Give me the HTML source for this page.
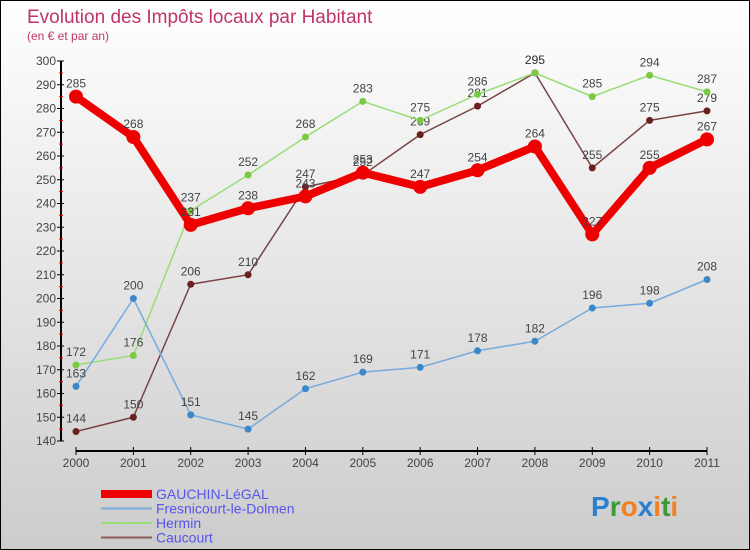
<!DOCTYPE html>
<html><head><meta charset="utf-8"><style>
body{margin:0}
#c{width:750px;height:550px;position:relative;box-sizing:border-box;border:1px solid #000;background:linear-gradient(#fff,#ccc);font-family:"Liberation Sans",sans-serif;overflow:hidden}
svg{position:absolute;left:0;top:0}
</style></head><body>
<div id="c">
<svg id="s" width="750" height="550">
<text x="26" y="22" font-size="19" fill="#c0336a">Evolution des Impôts locaux par Habitant</text>
<text x="26" y="39" font-size="12" fill="#c0336a">(en € et par an)</text>
<text x="590" y="515" font-size="28" font-weight="bold"><tspan fill="#2a7fd0">P</tspan><tspan fill="#3a9a3a">r</tspan><tspan fill="#f08020">o</tspan><tspan fill="#2a7fd0">x</tspan><tspan fill="#f08020">i</tspan><tspan fill="#3a9a3a">t</tspan><tspan fill="#f08020">i</tspan></text>
</svg></div>
<script>
const years=["2000","2001","2002","2003","2004","2005","2006","2007","2008","2009","2010","2011"];
const gauchin=[285,268,231,238,243,253,247,254,264,227,255,267];
const fresnicourt=[163,200,151,145,162,169,171,178,182,196,198,208];
const hermin=[172,176,237,252,268,283,275,286,295,285,294,287];
const caucourt=[144,150,206,210,247,252,269,281,295,255,275,279];
const yTicks=[140,150,160,170,180,190,200,210,220,230,240,250,260,270,280,290,300];
const names=["GAUCHIN-LéGAL","Fresnicourt-le-Dolmen","Hermin","Caucourt"];
const NS="http://www.w3.org/2000/svg",s=document.getElementById('s');
const X=i=>75+i*(631/11),Y=v=>440-(v-140)*2.375;
function el(t,a,p){const e=document.createElementNS(NS,t);for(const k in a)e.setAttribute(k,a[k]);(p||s).appendChild(e);return e;}
const ax=el('line',{x1:60,y1:Y(300),x2:60,y2:Y(140),stroke:'#000','stroke-width':2});


const xa=el('line',{x1:X(0),y1:450,x2:X(11),y2:450,stroke:'#000','stroke-width':2});


yTicks.forEach((v,i)=>{
  el('line',{x1:56,y1:Y(v),x2:63,y2:Y(v),stroke:'#000','stroke-width':1});
  if(i<yTicks.length-1) el('line',{x1:58,y1:Y(v+5),x2:62,y2:Y(v+5),stroke:'#e00','stroke-width':1});
  const t=el('text',{x:55,y:Y(v)+4,'font-size':12,'text-anchor':'end',fill:'#444'});t.textContent=v;
  
  
});
years.forEach((y,i)=>{
  el('line',{x1:X(i),y1:446,x2:X(i),y2:454,stroke:'#000'});
  const t=el('text',{x:X(i),y:466,'font-size':12,'text-anchor':'middle',fill:'#444'});t.textContent=y;
  
  
});
const series=[[caucourt,'#6b2020','#7a4444',1.5,3.5],[hermin,'#7ac943','#99dd77',1.5,3.5],[fresnicourt,'#3a88c8','#77aadd',1.5,3.5],[gauchin,'#ee0000','#ee0000',8,7]];
const snames=['caucourt','hermin','fresnicourt','gauchin'];
series.forEach(([d,c,lc,w,r],k)=>{
  const g=el('g',{});
  
  
  el('polyline',{points:d.map((v,i)=>X(i)+','+Y(v)).join(' '),fill:'none',stroke:lc,'stroke-width':w,'stroke-linejoin':'round'},g);
  d.forEach((v,i)=>{
    const p=el('circle',{cx:X(i),cy:Y(v),r:r,fill:c},g);
    
    
    const t=el('text',{x:X(i),y:Y(v)-9,'font-size':12,'text-anchor':'middle',fill:'#444'},g);t.textContent=v;
    
    
  });
});
const lc=[['#ee0000',8],['#77aadd',2],['#99dd77',2],['#8a5a5a',2]];
names.forEach((n,i)=>{
  const yy=493+i*14.5;
  const g=el('g',{});
  
  
  el('line',{x1:100,y1:yy,x2:151,y2:yy,stroke:lc[i][0],'stroke-width':lc[i][1]},g);
  const t=el('text',{x:155,y:yy+5,'font-size':14,fill:'#5555ee'},g);t.textContent=n;
});
</script></body></html>
